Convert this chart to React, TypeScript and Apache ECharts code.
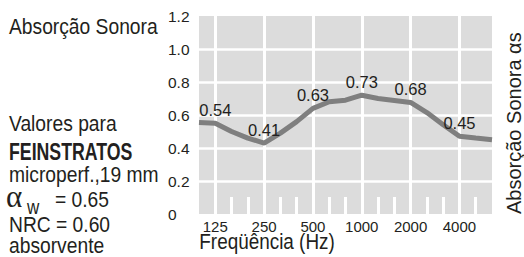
import React, { useEffect, useRef } from 'react';
import * as echarts from 'echarts';

// 1/3-octave frequency bands (Hz)
const frequencies = ['100', '125', '160', '200', '250', '315', '400', '500', '630', '800', '1000', '1250', '1600', '2000', '2500', '3150', '4000', '5000', '6300'];
// octave bands that carry a label and a full grid line
const octaveBands = ['125', '250', '500', '1000', '2000', '4000'];
// absorption curve as drawn
const curveValues = [0.555, 0.55, 0.5, 0.46, 0.43, 0.49, 0.56, 0.64, 0.68, 0.69, 0.72, 0.7, 0.688, 0.676, 0.615, 0.541, 0.471, 0.46, 0.45];
// printed values at octave bands
const printedValues = [0.54, 0.41, 0.63, 0.73, 0.68, 0.45];
// y axis
const yMin = 0;
const yMax = 1.2;
const yStep = 0.2;

const leftLines = ['Valores para', 'microperf.,19 mm', 'NRC = 0.60', 'absorvente'];

const FONT = '"Liberation Sans", Arial, Helvetica, sans-serif';
const TEXT = '#231f20';

export default function App() {
  const ref = useRef<HTMLDivElement>(null);

  useEffect(() => {
    if (!ref.current) return;
    const chart = echarts.init(ref.current, undefined, { renderer: 'svg' });
    const isOctave = (i: number) => octaveBands.indexOf(frequencies[i]) >= 0;

    const data = curveValues.map((v, i) => {
      const k = octaveBands.indexOf(frequencies[i]);
      if (k >= 0) {
        return { value: v, label: { show: true, formatter: printedValues[k].toFixed(2) } };
      }
      return v;
    });

    const bodyText = (text: string, x: number, y: number, extra: any = {}) => ({
      type: 'text',
      x,
      y,
      scaleX: extra.scaleX ?? 0.875,
      style: {
        text,
        fill: TEXT,
        font: extra.font ?? `22px ${FONT}`,
        align: 'left',
        verticalAlign: 'middle',
      },
    });

    chart.setOption({
      animation: false,
      backgroundColor: '#ffffff',
      grid: {
        left: 199,
        right: 32,
        top: 16,
        bottom: 43,
        show: true,
        backgroundColor: '#dcdcdc',
        borderWidth: 0,
      },
      xAxis: {
        type: 'category',
        data: frequencies,
        boundaryGap: false,
        axisLine: { show: false },
        axisTick: {
          show: true,
          inside: true,
          length: 17,
          interval: (i: number) => i > 0 && i < frequencies.length - 1 && !isOctave(i),
          lineStyle: { color: '#ffffff', width: 3 },
        },
        splitLine: {
          show: true,
          interval: (i: number) => isOctave(i),
          lineStyle: { color: '#ffffff', width: 3 },
        },
        axisLabel: {
          interval: (i: number) => isOctave(i),
          margin: 5,
          fontSize: 15,
          fontFamily: FONT,
          color: TEXT,
        },
      },
      yAxis: {
        type: 'value',
        min: yMin,
        max: yMax,
        interval: yStep,
        axisLine: { show: false },
        axisTick: { show: false },
        splitLine: {
          show: true,
          showMinLine: false,
          showMaxLine: false,
          lineStyle: { color: '#ffffff', width: 2.5 },
        },
        axisLabel: {
          align: 'left',
          margin: 31,
          fontSize: 15.5,
          fontFamily: FONT,
          color: TEXT,
          formatter: (v: number) => (v === 0 ? '0' : v.toFixed(1)),
        },
      },
      series: [
        {
          type: 'line',
          data,
          symbol: 'circle',
          symbolSize: 0,
          showSymbol: true,
          showAllSymbol: true,
          itemStyle: { color: '#7f7f7f' },
          lineStyle: { color: '#7f7f7f', width: 5 },
          label: {
            show: false,
            position: 'top',
            distance: 5,
            fontSize: 16.5,
            fontFamily: FONT,
            color: TEXT,
          },
        },
      ],
      graphic: [
        bodyText('Absorção Sonora', 9, 25.6),
        bodyText(leftLines[0], 9, 122.8),
        bodyText('FEINSTRATOS', 9, 151.1, { font: `bold 23.5px ${FONT}`, scaleX: 0.754 }),
        bodyText(leftLines[1], 9, 173.8),
        {
          type: 'text',
          x: 6,
          y: 212,
          style: {
            text: 'α',
            fill: TEXT,
            font: `31px "Liberation Serif", "DejaVu Serif", serif`,
            align: 'left',
            verticalAlign: 'bottom',
          },
        },
        bodyText('w', 27, 207, { font: `20px ${FONT}`, scaleX: 0.85 }),
        bodyText('= 0.65', 55, 199),
        bodyText(leftLines[2], 9, 224),
        bodyText(leftLines[3], 9, 245.3),
        bodyText('Freqüência (Hz)', 199.3, 240.6, { scaleX: 0.86 }),
        {
          type: 'text',
          x: 514,
          y: 214,
          rotation: Math.PI / 2,
          style: {
            text: 'Absorção Sonora αs',
            fill: TEXT,
            font: `20px ${FONT}`,
            align: 'left',
            verticalAlign: 'middle',
          },
        },
      ],
    });

    return () => chart.dispose();
  }, []);

  return (
    <div
      ref={ref}
      style={{ position: 'fixed', left: 0, top: 0, width: 524, height: 257, background: '#fff' }}
    />
  );
}
